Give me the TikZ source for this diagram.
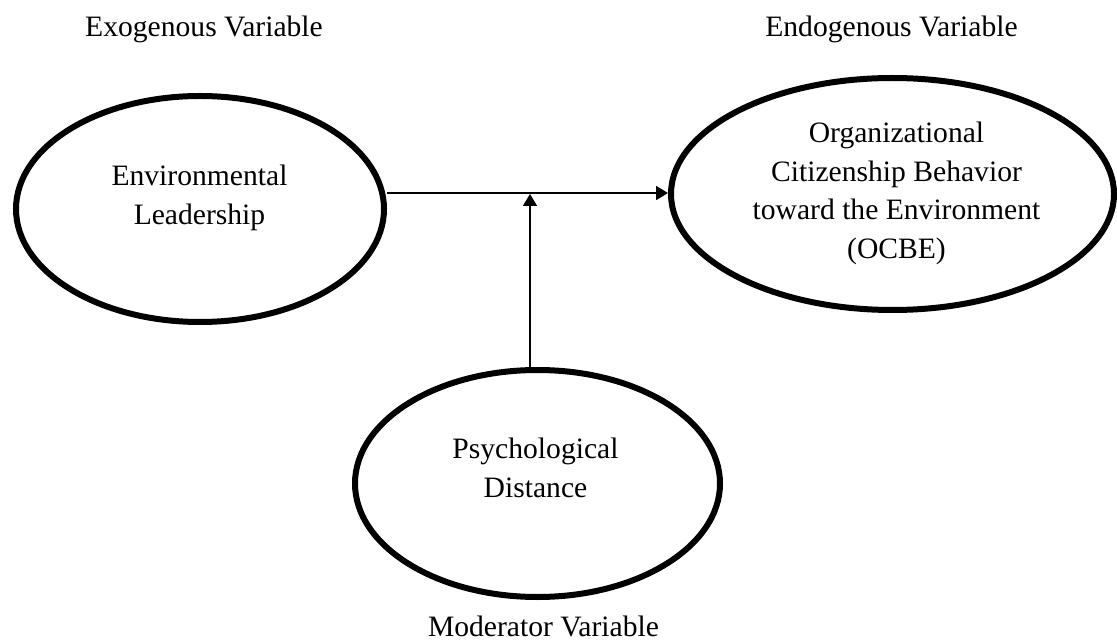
\documentclass[tikz,border=0pt]{standalone}
\usepackage{fontspec}
\setmainfont{Liberation Serif}
\usetikzlibrary{arrows.meta,shapes.geometric}
\begin{document}
\begin{tikzpicture}[x=0.75pt,y=-0.75pt,
  every node/.style={font=\fontsize{22.2}{29}\selectfont},
  latent/.style={draw, ellipse, line width=4.5pt, inner sep=0pt},
  label/.style={anchor=base, align=center, inner sep=0pt},
  arrow/.style={line width=1.3pt, -{Triangle[length=9pt,width=10.5pt]}}]
\useasboundingbox (0,0) rectangle (1117,641);
% ellipses
\node[latent, minimum width=276pt, minimum height=169.5pt] (env) at (200,209) {};
\node[latent, minimum width=332.25pt, minimum height=174pt] (ocbe) at (892.5,194) {};
\node[latent, minimum width=273.75pt, minimum height=170.25pt] (psy) at (537.5,483.5) {};
% texts (base anchor = baseline of the last line)
\node[label] (tenv) at (199.5,224.5) {Environmental\\Leadership};
\node[label] (tocbe) at (896.5,258.5) {Organizational\\Citizenship Behavior\\toward the Environment\\(OCBE)};
\node[label] (tpsy) at (535.5,497) {Psychological\\Distance};
\node[label] (exo) at (204,37) {Exogenous Variable};
\node[label] (endo) at (891.5,37) {Endogenous Variable};
\node[label] (mod) at (543.5,636) {Moderator Variable};
% connectors
\coordinate (hy) at (0,193);
\coordinate (meet) at (530,194);
\draw[arrow] (env.east |- hy) -- (ocbe.west |- hy);
\draw[arrow] (meet |- psy.north) -- (meet);
\end{tikzpicture}
\end{document}
